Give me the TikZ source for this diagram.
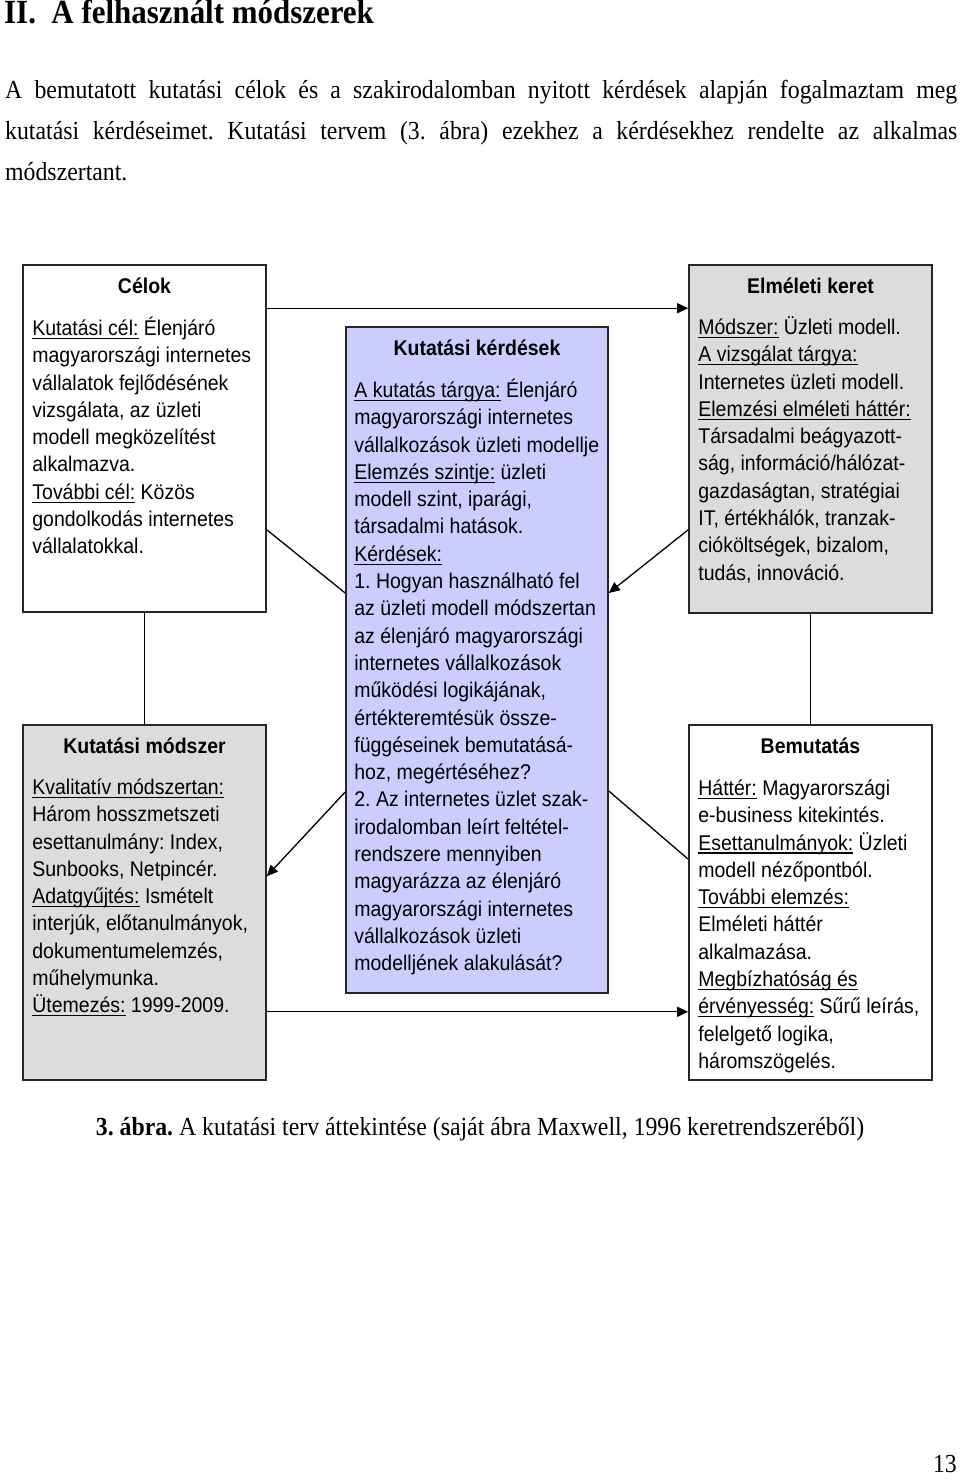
\documentclass[tikz,border=0pt]{standalone}
\usepackage{fontspec}
\setmainfont{Liberation Serif}[FakeStretch=0.915]
\newfontfamily\boxfont{Liberation Sans}[FakeStretch=0.915]
\usetikzlibrary{arrows.meta}
\definecolor{kgray}{RGB}{220,220,220}
\definecolor{kblue}{RGB}{204,204,255}
\newcommand{\lbl}[1]{{\setbox0=\hbox{#1}\rlap{\rule[-3.5pt]{\wd0}{1.1pt}}\box0}}
\newcommand{\firstln}{\rule{0pt}{19pt}}
\frenchspacing
\begin{document}
\begin{tikzpicture}[x=1pt,y=-1pt,
    kbox/.style={draw=black!85, line width=1.6pt, minimum width=243pt, inner sep=0pt},
    ktitle/.style={anchor=base, inner sep=0pt, font=\fontsize{21.3}{27.3}\selectfont\boxfont\bfseries},
    ktext/.style={anchor=north west, inner sep=0pt, align=left, font=\fontsize{21.3}{27.3}\selectfont\boxfont},
    serif/.style={inner sep=0pt, font=\fontsize{26}{41}\selectfont},
    arr/.style={-{Triangle[length=11pt,width=10pt]}, line width=1.3pt},
    link/.style={line width=1.3pt}]
    \useasboundingbox (0,0) rectangle (960,1482);

    % page text
    \node[serif, anchor=base west, font=\fontsize{33.8}{38}\selectfont\bfseries] (head) at (4,24) {II.\ \ A felhasznált módszerek};
    \node[serif, anchor=north west, align=left] (para) at (5,79) {\firstln\makebox[952pt][s]{A bemutatott kutatási célok és a szakirodalomban nyitott kérdések alapján fogalmaztam meg}\\
        \makebox[952pt][s]{kutatási kérdéseimet. Kutatási tervem (3. ábra) ezekhez a kérdésekhez rendelte az alkalmas}\\
        módszertant.};

    % boxes
    \node[kbox, minimum height=347pt] (celok) at (144.5,438.5) {};
    \node[kbox, fill=kblue, minimum width=262pt, minimum height=666pt] (kerdesek) at (477,660) {};
    \node[kbox, fill=kgray, minimum height=348pt] (elmeleti) at (810.5,439) {};
    \node[kbox, fill=kgray, minimum height=355pt] (modszer) at (144.5,902.5) {};
    \node[kbox, minimum height=355pt] (bemutatas) at (810.5,902.5) {};

    % titles
    \node[ktitle] (celokT) at ([yshift=-29pt]celok.north) {Célok};
    \node[ktitle] (kerdesekT) at ([yshift=-29pt]kerdesek.north) {Kutatási kérdések};
    \node[ktitle] (elmeletiT) at ([yshift=-29pt]elmeleti.north) {Elméleti keret};
    \node[ktitle] (modszerT) at ([yshift=-29pt]modszer.north) {Kutatási módszer};
    \node[ktitle] (bemutatasT) at ([yshift=-29pt]bemutatas.north) {Bemutatás};

    % box texts
    \node[ktext] (celokB) at ([xshift=10pt,yshift=-52pt]celok.north west) {\firstln\lbl{Kutatási cél:} Élenjáró\\
        magyarországi internetes\\
        vállalatok fejlődésének\\
        vizsgálata, az üzleti\\
        modell megközelítést\\
        alkalmazva.\\
        \lbl{További cél:} Közös\\
        gondolkodás internetes\\
        vállalatokkal.};
    \node[ktext] (kerdesekB) at ([xshift=9pt,yshift=-52pt]kerdesek.north west) {\firstln\lbl{A kutatás tárgya:} Élenjáró\\
        magyarországi internetes\\
        vállalkozások üzleti modellje\\
        \lbl{Elemzés szintje:} üzleti\\
        modell szint, iparági,\\
        társadalmi hatások.\\
        \lbl{Kérdések:}\\
        1. Hogyan használható fel\\
        az üzleti modell módszertan\\
        az élenjáró magyarországi\\
        internetes vállalkozások\\
        működési logikájának,\\
        értékteremtésük össze-\\
        függéseinek bemutatásá-\\
        hoz, megértéséhez?\\
        2. Az internetes üzlet szak-\\
        irodalomban leírt feltétel-\\
        rendszere mennyiben\\
        magyarázza az élenjáró\\
        magyarországi internetes\\
        vállalkozások üzleti\\
        modelljének alakulását?};
    \node[ktext] (elmeletiB) at ([xshift=10pt,yshift=-51pt]elmeleti.north west) {\firstln\lbl{Módszer:} Üzleti modell.\\
        \lbl{A vizsgálat tárgya:}\\
        Internetes üzleti modell.\\
        \lbl{Elemzési elméleti háttér:}\\
        Társadalmi beágyazott-\\
        ság, információ/hálózat-\\
        gazdaságtan, stratégiai\\
        IT, értékhálók, tranzak-\\
        cióköltségek, bizalom,\\
        tudás, innováció.};
    \node[ktext] (modszerB) at ([xshift=10pt,yshift=-51pt]modszer.north west) {\firstln\lbl{Kvalitatív módszertan:}\\
        Három hosszmetszeti\\
        esettanulmány: Index,\\
        Sunbooks, Netpincér.\\
        \lbl{Adatgyűjtés:} Ismételt\\
        interjúk, előtanulmányok,\\
        dokumentumelemzés,\\
        műhelymunka.\\
        \lbl{Ütemezés:} 1999-2009.};
    \node[ktext] (bemutatasB) at ([xshift=10pt,yshift=-52pt]bemutatas.north west) {\firstln\lbl{Háttér:} Magyarországi\\
        e-business kitekintés.\\
        \lbl{Esettanulmányok:} Üzleti\\
        modell nézőpontból.\\
        \lbl{További elemzés:}\\
        Elméleti háttér\\
        alkalmazása.\\
        \lbl{Megbízhatóság és}\\
        \lbl{érvényesség:} Sűrű leírás,\\
        felelgető logika,\\
        háromszögelés.};

    % connectors
    \draw[arr] ([yshift=-44pt]celok.north east) -- ([yshift=-44pt]elmeleti.north west);
    \draw[link] ([yshift=83pt]celok.south east) -- ([yshift=67pt]kerdesek.west);
    \draw[arr] ([yshift=84pt]elmeleti.south west) -- ([yshift=67pt]kerdesek.east);
    \draw[link] (celok.south) -- (modszer.north);
    \draw[link] (elmeleti.south) -- (bemutatas.north);
    \draw[arr] ([yshift=-132pt]kerdesek.west) -- ([yshift=-152pt]modszer.north east);
    \draw[link] ([yshift=-131pt]kerdesek.east) -- ([yshift=-135pt]bemutatas.north west);
    \draw[arr] ([yshift=69pt]modszer.south east) -- ([yshift=69pt]bemutatas.south west);

    % caption and page number
    \node[serif, anchor=base] (caption) at (480,1135) {\textbf{3. ábra.} A kutatási terv áttekintése (saját ábra Maxwell, 1996 keretrendszeréből)};
    \node[serif, anchor=base east] (pnum) at (957,1472) {13};
\end{tikzpicture}
\end{document}
